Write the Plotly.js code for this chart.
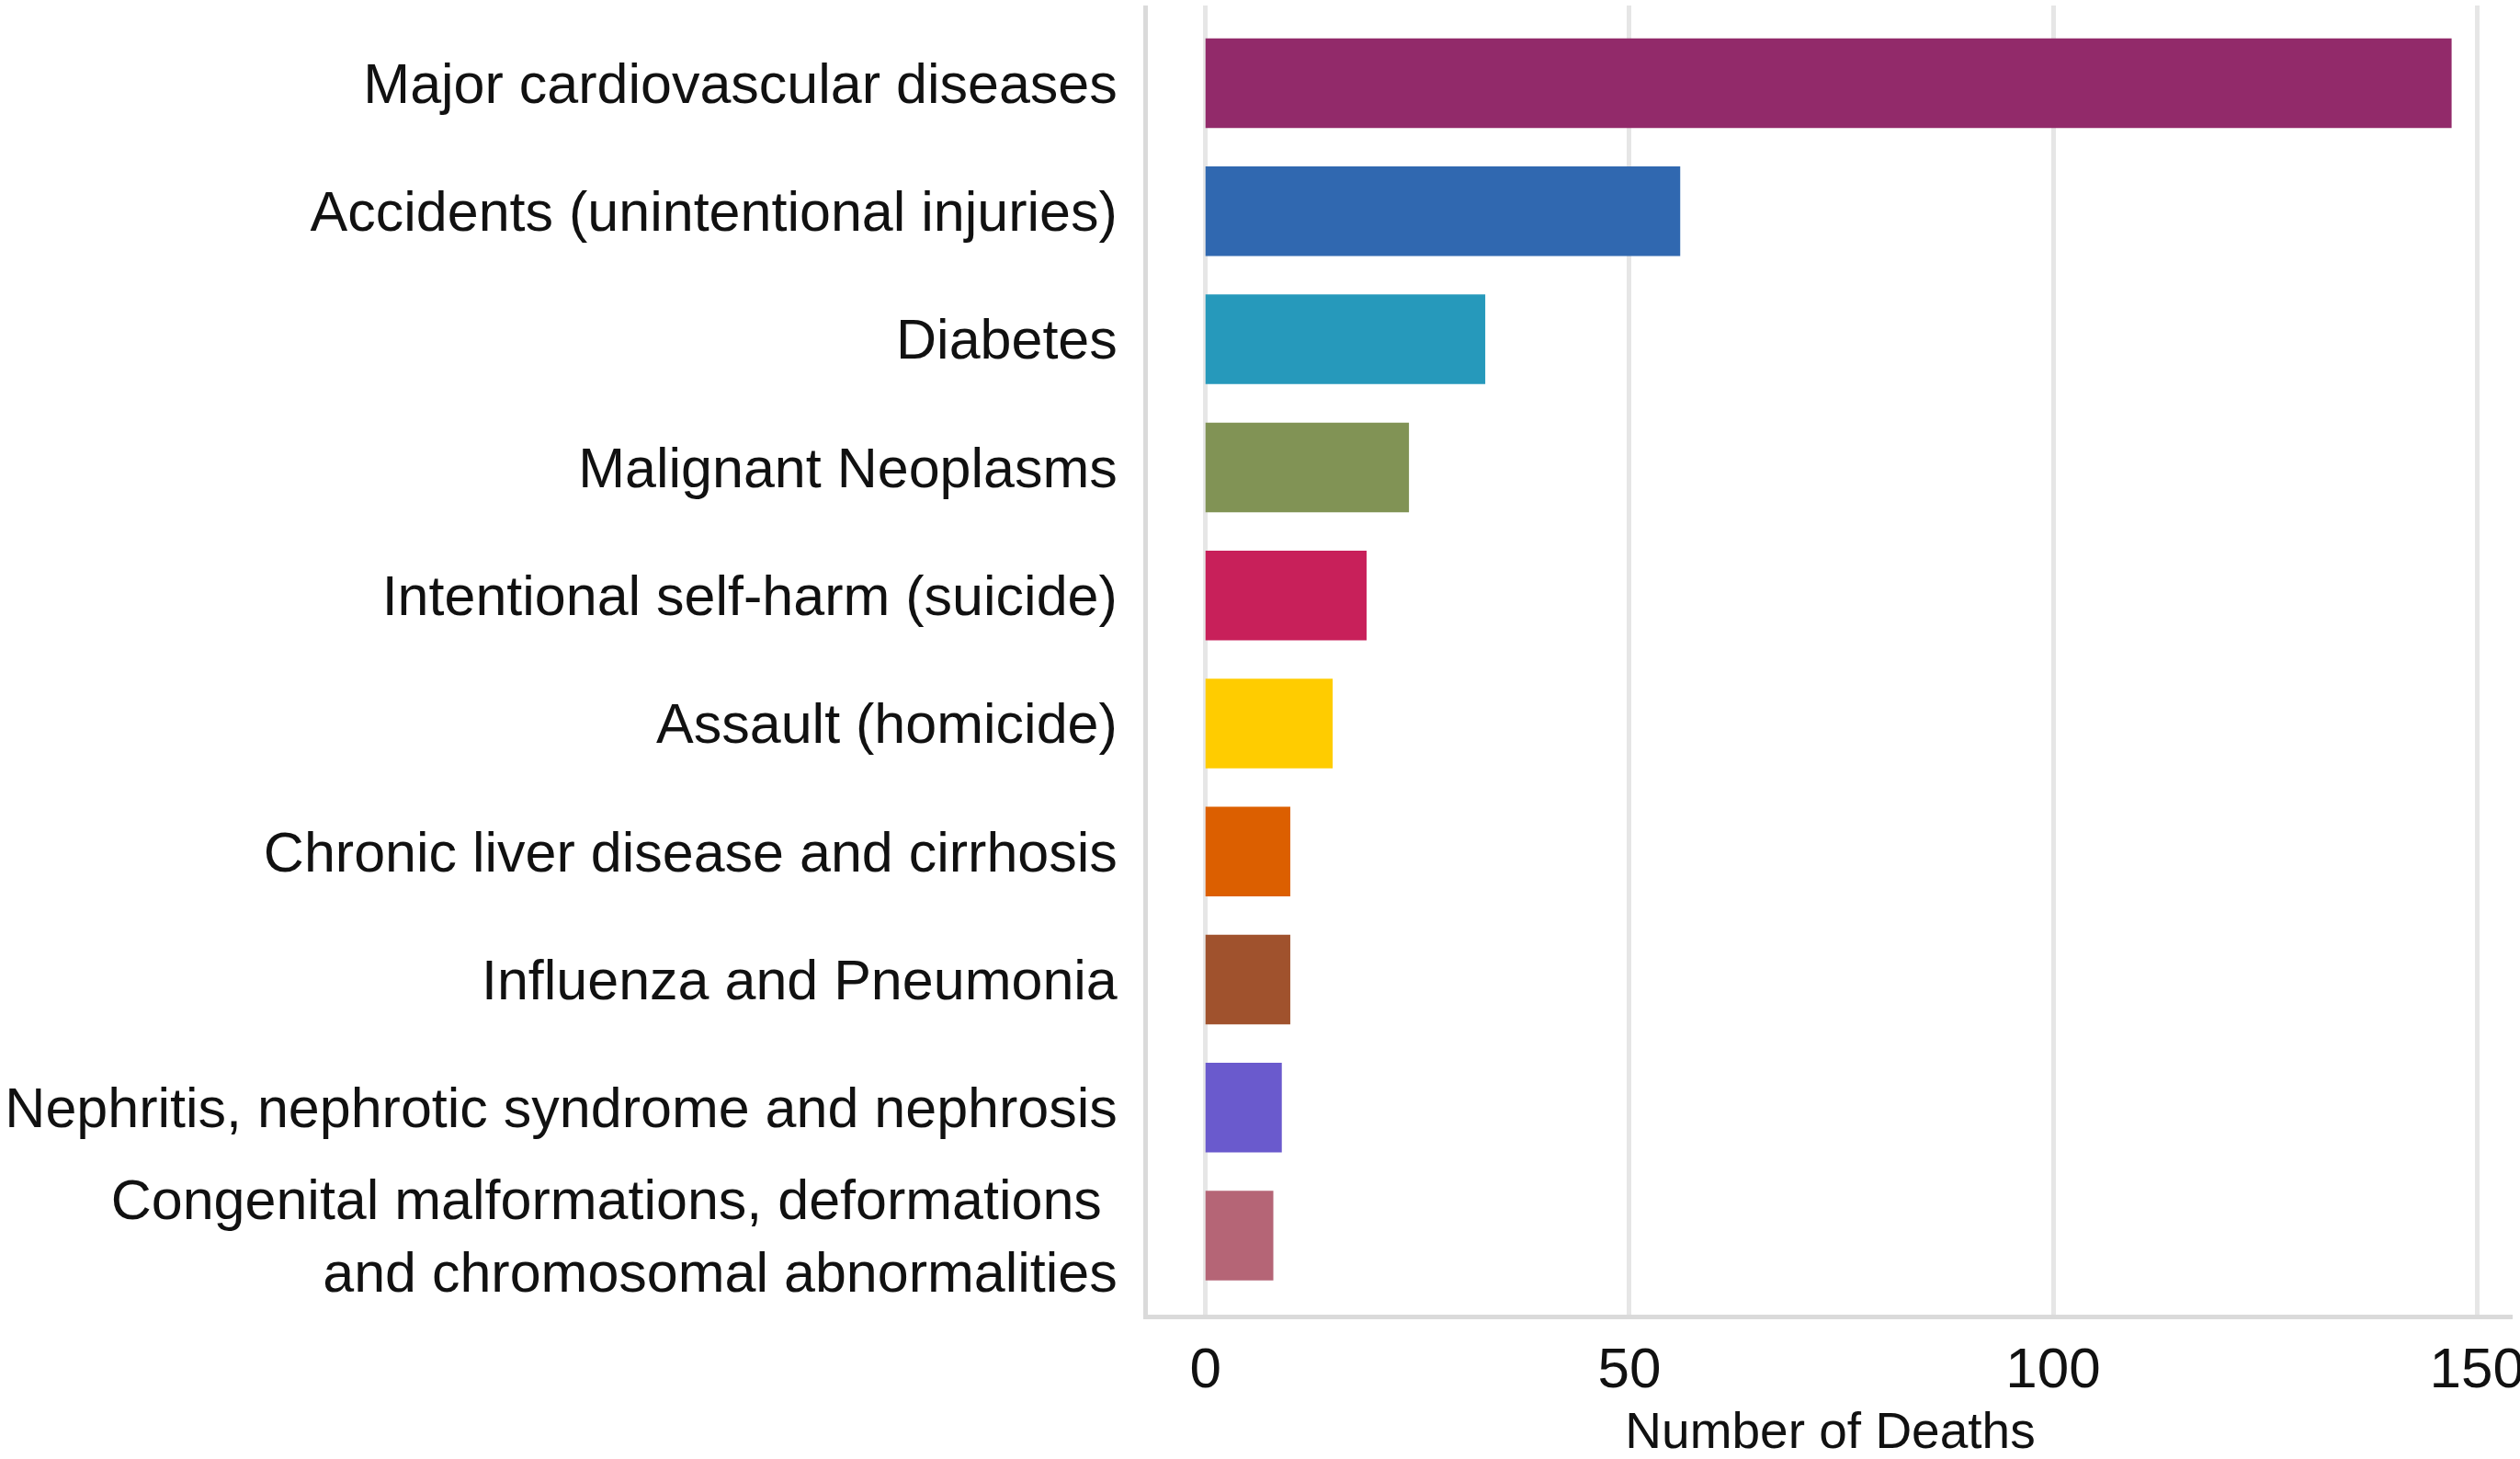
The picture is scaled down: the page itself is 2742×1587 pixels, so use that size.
<!DOCTYPE html>
<html>
<head>
<meta charset="utf-8">
<script src="https://cdn.plot.ly/plotly-3.0.1.min.js"></script>
<style>
  html, body { margin: 0; padding: 0; background: #ffffff; }
  #chart { width: 2742px; height: 1587px; }
</style>
</head>
<body>
<div id="chart"></div>
<script>
const categories = [
  "Major cardiovascular diseases",
  "Accidents (unintentional injuries)",
  "Diabetes",
  "Malignant Neoplasms",
  "Intentional self-harm (suicide)",
  "Assault (homicide)",
  "Chronic liver disease and cirrhosis",
  "Influenza and Pneumonia",
  "Nephritis, nephrotic syndrome and nephrosis",
  "Congenital malformations, deformations\u00a0<br>and chromosomal abnormalities"
];
const deaths = [147, 56, 33, 24, 19, 15, 10, 10, 9, 8];
const barColors = [
  "#922A6A", "#3068B0", "#2699BB", "#819355", "#C8205A",
  "#FFCC00", "#DC5F00", "#A0522D", "#6A5ACD", "#B56576"
];
const xTicks = [0, 50, 100, 150];
const xTitle = "Number of Deaths";

const trace = {
  type: "bar",
  orientation: "h",
  x: deaths,
  y: categories,
  marker: { color: barColors, line: { width: 0 } },
  hoverinfo: "x+y"
};

const layout = {
  width: 2742,
  height: 1587,
  paper_bgcolor: "#ffffff",
  plot_bgcolor: "#ffffff",
  margin: { l: 1249, r: 8, t: 6, b: 157, autoexpand: false },
  showlegend: false,
  bargap: 0.3,
  font: { family: "Liberation Sans, Arial, sans-serif", color: "#111111" },
  xaxis: {
    range: [-6.8, 154.2],
    tickvals: xTicks,
    ticktext: xTicks.map(String),
    showgrid: true,
    gridcolor: "#e6e6e6",
    gridwidth: 5,
    zeroline: false,
    showline: true,
    linecolor: "#dadada",
    linewidth: 5,
    ticks: "",
    ticklabelstandoff: 0,
    ticklabeloverflow: "allow",
    tickfont: { size: 62, family: "Liberation Sans, Arial, sans-serif", color: "#111111" },
    automargin: false,
    title: {
      text: xTitle,
      font: { size: 55, family: "Liberation Sans, Arial, sans-serif", color: "#111111" },
      standoff: 27
    }
  },
  yaxis: {
    type: "category",
    categoryorder: "array",
    categoryarray: categories,
    range: [9.617, -0.607],
    showgrid: false,
    zeroline: false,
    showline: true,
    linecolor: "#dadada",
    linewidth: 5,
    ticks: "",
    ticklabelstandoff: 16,
    tickfont: { size: 61, family: "Liberation Sans, Arial, sans-serif", color: "#111111" },
    automargin: false
  }
};

Plotly.newPlot("chart", [trace], layout, { staticPlot: true, displayModeBar: false });
</script>
</body>
</html>
